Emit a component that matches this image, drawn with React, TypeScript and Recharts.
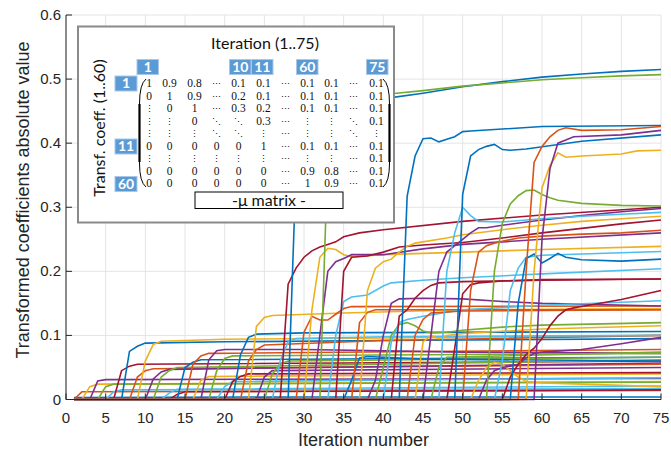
import React from 'react';
import { LineChart, Line, XAxis, YAxis, CartesianGrid } from 'recharts';

// ---------------- data ----------------
const xTicks = [0, 5, 10, 15, 20, 25, 30, 35, 40, 45, 50, 55, 60, 65, 70, 75];
const yTicks = [0, 0.1, 0.2, 0.3, 0.4, 0.5, 0.6];
const xLabel = 'Iteration number';
const yLabel = 'Transformed coefficients absolute value';

// [iteration, |transformed coefficient|] keypoints, coefficient k = 1..60
const c01 = [[1, 0.003], [30, 0.004], [75, 0.004]];
const c02 = [[1, 0], [2, 0.012], [75, 0.014]];
const c03 = [[1, 0], [2, 0], [3, 0.02], [4, 0.024], [75, 0.028]];
const c04 = [[1, 0], [3, 0], [4, 0.029], [5, 0.031], [75, 0.033]];
const c05 = [[1, 0], [4, 0], [5, 0.02], [6, 0.024], [75, 0.027]];
const c06 = [[1, 0], [5, 0], [6, 0.012], [7, 0.015], [75, 0.017]];
const c07 = [[1, 0], [6, 0], [7, 0.045], [8, 0.052], [9, 0.055], [75, 0.06]];
const c08 = [[1, 0], [7, 0], [8, 0.075], [9, 0.083], [10, 0.088], [20, 0.09], [40, 0.092], [75, 0.095]];
const c09 = [[1, 0], [8, 0], [9, 0.035], [10, 0.045], [11, 0.048], [75, 0.055]];
const c10 = [[1, 0], [9, 0], [10, 0.06], [11, 0.086], [12, 0.091], [20, 0.094], [40, 0.096], [75, 0.1]];
const c11 = [[1, 0], [10, 0], [11, 0.032], [12, 0.043], [13, 0.047], [75, 0.057]];
const c12 = [[1, 0], [11, 0], [12, 0.035], [13, 0.045], [14, 0.05], [75, 0.062]];
const c13 = [[1, 0], [12, 0], [13, 0.01], [14, 0.016], [75, 0.021]];
const c14 = [[1, 0], [13, 0], [14, 0.008], [15, 0.012], [75, 0.015]];
const c15 = [[1, 0], [14, 0], [15, 0.05], [16, 0.058], [17, 0.062], [75, 0.066]];
const c16 = [[1, 0], [15, 0], [16, 0.055], [17, 0.068], [18, 0.072], [75, 0.078]];
const c17 = [[1, 0], [16, 0], [17, 0.03], [18, 0.036], [75, 0.04]];
const c18 = [[1, 0], [17, 0], [18, 0.062], [19, 0.076], [20, 0.078], [30, 0.078], [50, 0.074], [75, 0.072]];
const c19 = [[1, 0], [18, 0], [19, 0.045], [20, 0.064], [21, 0.068], [75, 0.072]];
const c20 = [[1, 0], [19, 0], [20, 0.02], [21, 0.028], [75, 0.034]];
const c21 = [[1, 0], [20, 0], [21, 0.028], [22, 0.036], [23, 0.04], [75, 0.042]];
const c22 = [[1, 0], [21, 0], [22, 0.07], [23, 0.097], [24, 0.102], [30, 0.104], [75, 0.106]];
const c23 = [[1, 0], [22, 0], [23, 0.06], [24, 0.078], [25, 0.085], [40, 0.092], [75, 0.1]];
const c24 = [[1, 0], [23, 0], [24, 0.114], [25, 0.128], [26, 0.131], [35, 0.135], [50, 0.14], [75, 0.142]];
const c25 = [[1, 0], [24, 0], [25, 0.035], [26, 0.045], [75, 0.05]];
const c26 = [[1, 0], [25, 0], [26, 0.04], [27, 0.055], [28, 0.06], [75, 0.066]];
const c27 = [[1, 0], [26, 0], [27, 0.06], [28, 0.09], [29, 0.095], [40, 0.098], [75, 0.1]];
const c28 = [[1, 0], [27, 0], [28, 0.18], [29, 0.205], [30, 0.222], [31, 0.232], [32, 0.238], [33, 0.242], [34, 0.246], [35, 0.254], [37, 0.26], [40, 0.265], [50, 0.278], [60, 0.288], [75, 0.3]];
const c29 = [[1, 0], [28, 0], [29, 0.36], [30, 0.43], [31, 0.45], [33, 0.46], [37, 0.466], [41, 0.471], [45, 0.478], [50, 0.488], [55, 0.496], [60, 0.503], [65, 0.508], [70, 0.512], [75, 0.515]];
const c30 = [[1, 0], [29, 0], [30, 0.105], [31, 0.13], [32, 0.124], [33, 0.124], [34, 0.133], [35, 0.142], [36, 0.145], [75, 0.146]];
const c31 = [[1, 0], [30, 0], [31, 0.14], [32, 0.222], [33, 0.236], [34, 0.234], [35, 0.226], [36, 0.223], [40, 0.226], [45, 0.228], [50, 0.23], [60, 0.234], [75, 0.239]];
const c32 = [[1, 0], [31, 0], [32, 0.1], [33, 0.2], [34, 0.215], [35, 0.22], [36, 0.226], [40, 0.226], [45, 0.235], [50, 0.242], [60, 0.25], [75, 0.26]];
const c33 = [[1, 0], [32, 0], [33, 0.38], [34, 0.44], [35, 0.46], [38, 0.47], [41, 0.477], [45, 0.482], [50, 0.489], [55, 0.494], [60, 0.499], [65, 0.502], [70, 0.505], [75, 0.507]];
const c34 = [[1, 0], [33, 0], [34, 0.1], [35, 0.153], [36, 0.16], [38, 0.163], [40, 0.177], [41, 0.182], [45, 0.186], [50, 0.19], [60, 0.196], [75, 0.204]];
const c35 = [[1, 0], [34, 0], [35, 0.2], [36, 0.222], [38, 0.224], [40, 0.23], [42, 0.238], [45, 0.241], [50, 0.245], [55, 0.252], [60, 0.26], [65, 0.267], [70, 0.274], [75, 0.28]];
const c36 = [[1, 0], [35, 0], [36, 0.03], [37, 0.065], [38, 0.067], [45, 0.063], [75, 0.06]];
const c37 = [[1, 0], [36, 0], [37, 0.12], [38, 0.136], [39, 0.14], [75, 0.14]];
const c38 = [[1, 0], [37, 0], [38, 0.17], [39, 0.205], [40, 0.215], [41, 0.219], [42, 0.23], [43, 0.239], [44, 0.244], [48, 0.252], [50, 0.257], [55, 0.265], [60, 0.272], [65, 0.278], [70, 0.282], [75, 0.286]];
const c39 = [[1, 0], [38, 0], [39, 0.03], [40, 0.1], [41, 0.15], [42, 0.157], [45, 0.158], [50, 0.157], [55, 0.153], [60, 0.15], [75, 0.146]];
const c40 = [[1, 0], [39, 0], [40, 0.05], [41, 0.1], [42, 0.117], [43, 0.12], [44, 0.115], [45, 0.107], [46, 0.104], [48, 0.105], [50, 0.108], [55, 0.113], [60, 0.116], [75, 0.12]];
const c41 = [[1, 0], [40, 0], [41, 0.09], [42, 0.12], [43, 0.125], [45, 0.13], [50, 0.14], [60, 0.147], [75, 0.154]];
const c42 = [[1, 0], [41, 0], [42, 0.13], [43, 0.14], [44, 0.158], [45, 0.17], [46, 0.178], [47, 0.182], [50, 0.184], [60, 0.186], [75, 0.188]];
const c43 = [[1, 0], [42, 0], [43, 0.317], [44, 0.38], [45, 0.407], [46, 0.408], [47, 0.402], [48, 0.406], [49, 0.41], [50, 0.418], [51, 0.419], [55, 0.422], [60, 0.426], [75, 0.4275]];
const c44 = [[1, 0], [43, 0], [44, 0.1], [45, 0.125], [46, 0.135], [50, 0.138], [75, 0.14]];
const c45 = [[1, 0], [44, 0], [45, 0.09], [46, 0.1], [47, 0.095], [48, 0.1], [50, 0.103], [60, 0.11], [75, 0.115]];
const c46 = [[1, 0], [45, 0], [46, 0.1], [47, 0.2], [48, 0.23], [49, 0.24], [50, 0.25], [51, 0.26], [52, 0.268], [53, 0.268], [55, 0.272], [60, 0.28], [65, 0.287], [70, 0.293], [75, 0.298]];
const c47 = [[1, 0], [46, 0], [47, 0.05], [48, 0.066], [75, 0.074]];
const c48 = [[1, 0], [47, 0], [48, 0.2], [49, 0.26], [50, 0.3], [51, 0.287], [52, 0.278], [55, 0.277], [60, 0.282], [65, 0.286], [70, 0.289], [75, 0.292]];
const c49 = [[1, 0], [48, 0], [49, 0.08], [50, 0.165], [51, 0.179], [52, 0.182], [55, 0.185], [60, 0.187], [75, 0.188]];
const c50 = [[1, 0], [49, 0], [50, 0.32], [51, 0.38], [52, 0.39], [53, 0.395], [54, 0.398], [55, 0.39], [56, 0.389], [58, 0.391], [65, 0.403], [75, 0.413]];
const c51 = [[1, 0], [50, 0], [51, 0.17], [52, 0.23], [53, 0.24], [54, 0.244], [55, 0.247], [57, 0.252], [60, 0.255], [65, 0.258], [70, 0.26], [75, 0.264]];
const c52 = [[1, 0], [51, 0], [52, 0.03], [53, 0.05], [54, 0.058], [55, 0.055], [56, 0.045], [57, 0.035], [58, 0.028], [60, 0.026], [65, 0.024], [70, 0.022], [75, 0.02]];
const c53 = [[1, 0], [52, 0], [53, 0.03], [54, 0.045], [55, 0.05], [56, 0.052], [57, 0.055], [58, 0.065], [59, 0.072], [60, 0.074], [65, 0.078], [70, 0.087], [75, 0.097]];
const c54 = [[1, 0], [53, 0], [54, 0.2], [55, 0.275], [56, 0.305], [57, 0.318], [58, 0.326], [59, 0.327], [60, 0.32], [61, 0.315], [62, 0.311], [65, 0.306], [70, 0.303], [75, 0.302]];
const c55 = [[1, 0], [54, 0], [55, 0.06], [56, 0.17], [57, 0.205], [58, 0.222], [60, 0.225], [65, 0.227], [75, 0.231]];
const c56 = [[1, 0], [55, 0], [56, 0.035], [57, 0.055], [58, 0.07], [59, 0.08], [60, 0.095], [61, 0.115], [62, 0.13], [63, 0.14], [64, 0.143], [65, 0.145], [70, 0.156], [75, 0.17]];
const c57 = [[1, 0], [56, 0], [57, 0.15], [58, 0.22], [59, 0.227], [60, 0.213], [61, 0.22], [62, 0.228], [63, 0.222], [65, 0.218], [70, 0.216], [75, 0.219]];
const c58 = [[1, 0], [57, 0], [58, 0.2], [59, 0.37], [60, 0.395], [61, 0.41], [62, 0.42], [63, 0.424], [65, 0.42], [70, 0.421], [75, 0.426]];
const c59 = [[1, 0], [58, 0], [59, 0.2], [60, 0.33], [61, 0.365], [62, 0.385], [63, 0.378], [65, 0.38], [70, 0.383], [72, 0.388], [75, 0.389]];
const c60 = [[1, 0], [59, 0], [60, 0.25], [61, 0.36], [62, 0.4], [63, 0.405], [64, 0.41], [70, 0.413], [75, 0.42]];

const traces = [
  c01, c02, c03, c04, c05, c06, c07, c08, c09, c10,
  c11, c12, c13, c14, c15, c16, c17, c18, c19, c20,
  c21, c22, c23, c24, c25, c26, c27, c28, c29, c30,
  c31, c32, c33, c34, c35, c36, c37, c38, c39, c40,
  c41, c42, c43, c44, c45, c46, c47, c48, c49, c50,
  c51, c52, c53, c54, c55, c56, c57, c58, c59, c60,
];

// inset texts
const insetTitle = 'Iteration (1..75)';
const insetYTitle = 'Transf. coeff. (1..60)';
const insetCaption = '-\u03bc matrix -';
const colTags = ['1', '10', '11', '60', '75'];
const rowTags = ['1', '11', '60'];
const muRows = [
  ['1', '0.9', '0.8', '⋯', '0.1', '0.1', '⋯', '0.1', '0.1', '⋯', '0.1'],
  ['0', '1', '0.9', '⋯', '0.2', '0.1', '⋯', '0.1', '0.1', '⋯', '0.1'],
  ['⋮', '0', '1', '⋯', '0.3', '0.2', '⋯', '0.1', '0.1', '⋯', '0.1'],
  ['⋮', '⋮', '0', '⋱', '⋱', '0.3', '⋯', '⋮', '⋮', '⋱', '0.1'],
  ['⋮', '⋮', '⋮', '⋱', '⋱', '⋮', '⋯', '⋮', '⋮', '⋱', '⋮'],
  ['0', '0', '0', '0', '0', '1', '⋯', '0.1', '0.1', '⋯', '0.1'],
  ['⋮', '⋮', '⋮', '⋮', '⋮', '⋮', '⋯', '⋮', '⋮', '⋯', '0.1'],
  ['0', '0', '0', '0', '0', '0', '⋯', '0.9', '0.8', '⋯', '0.1'],
  ['0', '0', '0', '0', '0', '0', '⋯', '1', '0.9', '⋯', '0.1'],
];

// ---------------- styles / layout ----------------
const W = 671;
const H = 452;
const PLOT = { left: 66, right: 661, top: 15, bottom: 399.5 };
const palette = ['#0072BD', '#D95319', '#EDB120', '#7E2F8E', '#77AC30', '#4DBEEE', '#A2142F'];
const AXIS = '#262626';
const TICK_LEN = 6;
const FONT = '"Liberation Sans", Arial, Helvetica, sans-serif';
const INSET_FONT = 'Lato, "Open Sans", sans-serif';
const SERIF = '"Liberation Serif", "DejaVu Serif", serif';
const TAG_FILL = '#5B9BD5';

const colTagX = [137, 229.5, 251.5, 296.5, 366.5];
const rowTagY = [76, 139, 176.5];
const cellX = [149, 169.5, 194.5, 216.5, 238.5, 263.5, 285, 307.5, 331.5, 353.5, 376.5];
const cellY = [82.7, 96, 108.3, 120.7, 133.3, 146, 158.3, 170.7, 183.3];

const fmtY = (v: number) => (v === 0 ? '0' : v.toFixed(1));

function BottomTick(p: any) {
  return (
    <g>
      <line x1={p.x} x2={p.x} y1={PLOT.bottom} y2={PLOT.bottom - TICK_LEN} stroke={AXIS} />
      <text x={p.x} y={PLOT.bottom + 23} textAnchor="middle" fontSize={15} fontFamily={FONT} fill={AXIS}>
        {p.payload.value}
      </text>
    </g>
  );
}
function TopTick(p: any) {
  return <line x1={p.x} x2={p.x} y1={PLOT.top} y2={PLOT.top + TICK_LEN} stroke={AXIS} />;
}
function LeftTick(p: any) {
  return (
    <g>
      <line x1={PLOT.left} x2={PLOT.left + TICK_LEN} y1={p.y} y2={p.y} stroke={AXIS} />
      <text x={PLOT.left - 5} y={p.y + 5} textAnchor="end" fontSize={15} fontFamily={FONT} fill={AXIS}>
        {fmtY(p.payload.value)}
      </text>
    </g>
  );
}
function RightTick(p: any) {
  return <line x1={PLOT.right - TICK_LEN} x2={PLOT.right} y1={p.y} y2={p.y} stroke={AXIS} />;
}

function Tag({ x, y, w, label }: { x: number; y: number; w: number; label: string }) {
  return (
    <g>
      <rect x={x} y={y} width={w} height={15} fill={TAG_FILL} stroke="#A9C8E8" strokeWidth={1} />
      <text x={x + w / 2} y={y + 12.3} textAnchor="middle" fontSize={14} fontWeight={700} fontFamily={INSET_FONT} fill="#fff">
        {label}
      </text>
    </g>
  );
}

function Inset() {
  return (
    <svg width={W} height={H} style={{ position: 'absolute', left: 0, top: 0, pointerEvents: 'none' }}>
      {/* axis titles */}
      <text x={(PLOT.left + PLOT.right) / 2} y={446} textAnchor="middle" fontSize={18} fontFamily={FONT} fill={AXIS}>
        {xLabel}
      </text>
      <text
        x={23}
        y={200}
        transform="rotate(-90 23 200)"
        textAnchor="middle"
        dominantBaseline="central"
        fontSize={18}
        fontFamily={FONT}
        fill={AXIS}
      >
        {yLabel}
      </text>

      {/* inset box */}
      <rect x={78} y={26.5} width={316} height={196} fill="#fff" stroke="#8a8a8a" strokeWidth={2} />
      <text x={265} y={49} textAnchor="middle" fontSize={16} fontFamily={INSET_FONT} fill="#111">
        {insetTitle}
      </text>
      <text
        x={98}
        y={128}
        transform="rotate(-90 98 128)"
        textAnchor="middle"
        dominantBaseline="central"
        fontSize={16}
        fontFamily={INSET_FONT}
        fill="#111"
      >
        {insetYTitle}
      </text>

      {colTags.map((t, i) => (
        <Tag key={'c' + i} x={colTagX[i]} y={59.5} w={21.5} label={t} />
      ))}
      {rowTags.map((t, i) => (
        <Tag key={'r' + i} x={115} y={rowTagY[i]} w={22} label={t} />
      ))}

      {/* parentheses */}
      <path d="M146,79 Q139.5,84 139.5,104 L139.5,163 Q139.5,182 146,187" fill="none" stroke="#000" strokeWidth={1} />
      <line x1={139.5} x2={139.5} y1={104} y2={162} stroke="#000" strokeWidth={2.2} />
      <path d="M383,79 Q389.5,84 389.5,104 L389.5,163 Q389.5,182 383,187" fill="none" stroke="#000" strokeWidth={1} />
      <line x1={389.5} x2={389.5} y1={104} y2={162} stroke="#000" strokeWidth={2.2} />

      {muRows.map((row, r) =>
        row.map((cell, c) => {
          const isDots = cell === '⋯' || cell === '⋮' || cell === '⋱';
          return (
            <text
              key={r + '-' + c}
              x={cellX[c]}
              y={cellY[r] + 4}
              textAnchor="middle"
              fontSize={isDots ? 9 : 11.5}
              fontFamily={SERIF}
              fill="#111"
            >
              {cell}
            </text>
          );
        })
      )}

      <rect x={195} y={192} width={148} height={16.5} fill="#fff" stroke="#000" strokeWidth={1} />
      <text x={269} y={205.5} textAnchor="middle" fontSize={16} fontFamily={INSET_FONT} fill="#111">
        {insetCaption}
      </text>
    </svg>
  );
}

export default function App() {
  return (
    <div style={{ position: 'absolute', left: 0, top: 0, width: W, height: H, background: '#fff' }}>
      <LineChart width={W} height={H} margin={{ top: PLOT.top, right: W - PLOT.right, bottom: 0, left: 0 }}>
        <CartesianGrid stroke="#e4e4e4" strokeWidth={1} />
        <XAxis
          dataKey="x"
          type="number"
          domain={[0, 75]}
          ticks={xTicks}
          height={H - PLOT.bottom}
          tickLine={false}
          tickSize={0}
          tickMargin={0}
          axisLine={{ stroke: AXIS }}
          tick={<BottomTick />}
          interval={0}
        />
        <XAxis
          xAxisId="top"
          orientation="top"
          type="number"
          domain={[0, 75]}
          ticks={xTicks}
          height={0}
          tickLine={false}
          axisLine={{ stroke: AXIS }}
          tick={<TopTick />}
          interval={0}
        />
        <YAxis
          type="number"
          domain={[0, 0.6]}
          ticks={yTicks}
          width={PLOT.left}
          tickLine={false}
          tickSize={0}
          tickMargin={0}
          axisLine={{ stroke: AXIS }}
          tick={<LeftTick />}
          interval={0}
        />
        <YAxis
          yAxisId="right"
          orientation="right"
          type="number"
          domain={[0, 0.6]}
          ticks={yTicks}
          width={0}
          tickLine={false}
          axisLine={{ stroke: AXIS }}
          tick={<RightTick />}
          interval={0}
        />
        {traces.map((t, i) => (
          <Line
            key={i}
            data={t.map(([x, y]) => ({ x, y }))}
            dataKey="y"
            type="linear"
            stroke={palette[i % palette.length]}
            strokeWidth={1.6}
            dot={false}
            activeDot={false}
            isAnimationActive={false}
          />
        ))}
      </LineChart>
      <Inset />
    </div>
  );
}
